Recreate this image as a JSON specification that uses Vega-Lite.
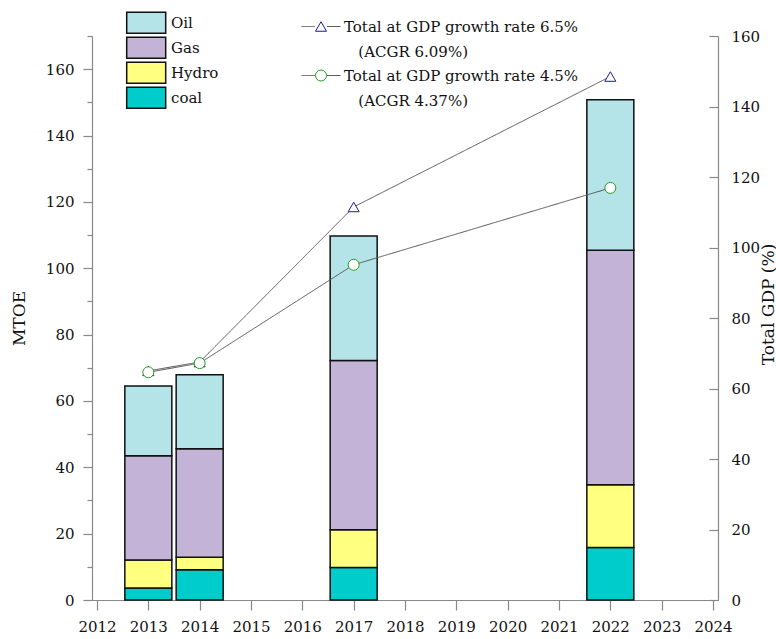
{
  "$schema": "https://vega.github.io/schema/vega-lite/v6.json",
  "width": 626,
  "height": 564,
  "autosize": {"type": "none"},
  "padding": {"left": 92, "top": 36, "right": 58, "bottom": 39},
  "config": {
    "font": "DejaVu Serif",
    "view": {"stroke": null},
    "style": {"guide-label": {"lineHeight": 25}},
    "axis": {
      "grid": false,
      "domainColor": "#888888",
      "tickColor": "#888888",
      "domainWidth": 1.2,
      "tickWidth": 1.2,
      "labelColor": "#111111",
      "labelFontSize": 15,
      "titleFontSize": 17,
      "titleFontWeight": "normal",
      "titleColor": "#111111"
    },
    "legend": {
      "labelFontSize": 15,
      "labelColor": "#111111",
      "padding": 0,
      "labelLimit": 400
    }
  },
  "datasets": {
    "energy": [
      {"year": 2013, "source": "coal", "value": 3.6},
      {"year": 2013, "source": "Hydro", "value": 8.45},
      {"year": 2013, "source": "Gas", "value": 31.45},
      {"year": 2013, "source": "Oil", "value": 21.0},
      {"year": 2014, "source": "coal", "value": 9.1},
      {"year": 2014, "source": "Hydro", "value": 3.75},
      {"year": 2014, "source": "Gas", "value": 32.75},
      {"year": 2014, "source": "Oil", "value": 22.3},
      {"year": 2017, "source": "coal", "value": 9.8},
      {"year": 2017, "source": "Hydro", "value": 11.4},
      {"year": 2017, "source": "Gas", "value": 51.0},
      {"year": 2017, "source": "Oil", "value": 37.5},
      {"year": 2022, "source": "coal", "value": 15.85},
      {"year": 2022, "source": "Hydro", "value": 18.9},
      {"year": 2022, "source": "Gas", "value": 70.65},
      {"year": 2022, "source": "Oil", "value": 45.4}
    ],
    "gdp": [
      {"year": 2013, "scenario": "Total at GDP growth rate 6.5%", "gdp": 65.0},
      {"year": 2014, "scenario": "Total at GDP growth rate 6.5%", "gdp": 67.5},
      {"year": 2017, "scenario": "Total at GDP growth rate 6.5%", "gdp": 111.5},
      {"year": 2022, "scenario": "Total at GDP growth rate 6.5%", "gdp": 148.5},
      {"year": 2013, "scenario": "Total at GDP growth rate 4.5%", "gdp": 64.6},
      {"year": 2014, "scenario": "Total at GDP growth rate 4.5%", "gdp": 67.2},
      {"year": 2017, "scenario": "Total at GDP growth rate 4.5%", "gdp": 95.1},
      {"year": 2022, "scenario": "Total at GDP growth rate 4.5%", "gdp": 116.9}
    ]
  },
  "layer": [
    {
      "data": {"name": "energy"},
      "transform": [
        {"calculate": "indexof(['coal', 'Hydro', 'Gas', 'Oil'], datum.source)", "as": "stackOrder"}
      ],
      "mark": {"type": "bar", "size": 47, "stroke": "#111111", "strokeWidth": 1.5},
      "encoding": {
        "x": {
          "field": "year", "type": "quantitative",
          "scale": {"domain": [2012, 2024], "nice": false, "zero": false},
          "axis": {
            "title": null,
            "values": [2012, 2013, 2014, 2015, 2016, 2017, 2018, 2019, 2020, 2021, 2022, 2023, 2024],
            "format": "d",
            "tickSize": 10,
            "labelPadding": 9,
            "labelFlush": false
          }
        },
        "y": {
          "field": "value", "type": "quantitative", "stack": "zero",
          "scale": {"domain": [0, 170], "nice": false},
          "axis": {
            "orient": "left",
            "title": "MTOE",
            "titleX": -73,
            "titleY": 282,
            "titleAngle": 270,
            "titleBaseline": "middle",
            "titleAlign": "center",
            "values": [0, 10, 20, 30, 40, 50, 60, 70, 80, 90, 100, 110, 120, 130, 140, 150, 160, 170],
            "labelExpr": "datum.value % 20 === 0 ? datum.label : ''",
            "tickSize": {"condition": {"test": "datum.value % 20 === 0", "value": 9}, "value": 5},
            "labelPadding": 9,
            "labelFlush": false
          }
        },
        "order": {"field": "stackOrder", "type": "quantitative", "sort": "ascending"},
        "fill": {
          "field": "source", "type": "nominal",
          "scale": {"domain": ["Oil", "Gas", "Hydro", "coal"], "range": ["#B4E3E8", "#C3B3D7", "#FFFF80", "#00CCCC"]},
          "legend": {
            "title": null,
            "orient": "none",
            "legendX": 42.7,
            "legendY": -24.8,
            "symbolType": "M-1.857,-1H1.857V1H-1.857Z",
            "symbolSize": 441,
            "symbolStrokeColor": "#111111",
            "symbolStrokeWidth": 1.5,
            "symbolOpacity": 1,
            "labelOffset": 13.3,
            "rowPadding": -2.5
          }
        }
      }
    },
    {
      "data": {"name": "gdp"},
      "layer": [
        {
          "mark": {"type": "line", "color": "#555555", "strokeWidth": 1},
          "encoding": {
            "x": {"field": "year", "type": "quantitative"},
            "y": {
              "field": "gdp", "type": "quantitative",
              "scale": {"domain": [0, 160], "nice": false},
              "axis": {
                "orient": "right",
                "title": "Total GDP (%)",
                "titleX": 50,
                "titleY": 268,
                "titleAngle": 270,
                "titleBaseline": "middle",
                "titleAlign": "center",
                "values": [0, 10, 20, 30, 40, 50, 60, 70, 80, 90, 100, 110, 120, 130, 140, 150, 160],
                "labelExpr": "datum.value % 20 === 0 ? datum.label : ''",
                "tickSize": {"condition": {"test": "datum.value % 20 === 0", "value": -9}, "value": -5},
                "labelPadding": 22,
                "labelFlush": false
              }
            },
            "strokeDash": {
              "field": "scenario", "type": "nominal",
              "sort": "descending",
              "scale": {"range": [[1, 0], [1, 0]]},
              "legend": {
                "title": null,
                "orient": "none",
                "legendX": 221.5,
                "legendY": -17,
                "symbolType": "M-3.545,0H-1.1M1.1,0H3.545",
                "symbolSize": 121,
                "symbolStrokeColor": "#555555",
                "symbolStrokeWidth": 1,
                "labelOpacity": 0,
                "labelOffset": 15.5,
                "labelExpr": "[datum.label, datum.label === 'Total at GDP growth rate 6.5%' ? '\u200b\u00a0\u00a0\u00a0(ACGR 6.09%)' : '\u200b\u00a0\u00a0\u00a0(ACGR 4.37%)']",
                "rowPadding": 8
              }
            }
          }
        },
        {
          "mark": {"type": "point", "fill": "white", "fillOpacity": 1, "opacity": 1, "strokeWidth": 1, "size": 121},
          "encoding": {
            "x": {"field": "year", "type": "quantitative"},
            "y": {"field": "gdp", "type": "quantitative"},
            "shape": {
              "field": "scenario", "type": "nominal",
              "scale": {"domain": ["Total at GDP growth rate 6.5%", "Total at GDP growth rate 4.5%"], "range": ["triangle-up", "circle"]},
              "legend": {
                "title": null,
                "orient": "none",
                "legendX": 221.5,
                "legendY": -17,
                "symbolSize": 121,
                "symbolFillColor": "white",
                "symbolStrokeWidth": 1,
                "labelOffset": 15.5,
                "labelExpr": "[datum.label, datum.label === 'Total at GDP growth rate 6.5%' ? '\u200b\u00a0\u00a0\u00a0(ACGR 6.09%)' : '\u200b\u00a0\u00a0\u00a0(ACGR 4.37%)']",
                "rowPadding": 8
              }
            },
            "stroke": {
              "field": "scenario", "type": "nominal",
              "scale": {"domain": ["Total at GDP growth rate 6.5%", "Total at GDP growth rate 4.5%"], "range": ["#1a1a9a", "#22a022"]},
              "legend": {
                "title": null,
                "orient": "none",
                "legendX": 221.5,
                "legendY": -17,
                "symbolSize": 121,
                "symbolFillColor": "white",
                "symbolStrokeWidth": 1,
                "labelOffset": 15.5,
                "labelExpr": "[datum.label, datum.label === 'Total at GDP growth rate 6.5%' ? '\u200b\u00a0\u00a0\u00a0(ACGR 6.09%)' : '\u200b\u00a0\u00a0\u00a0(ACGR 4.37%)']",
                "rowPadding": 8
              }
            }
          }
        }
      ]
    }
  ],
  "resolve": {"scale": {"y": "independent"}}
}
